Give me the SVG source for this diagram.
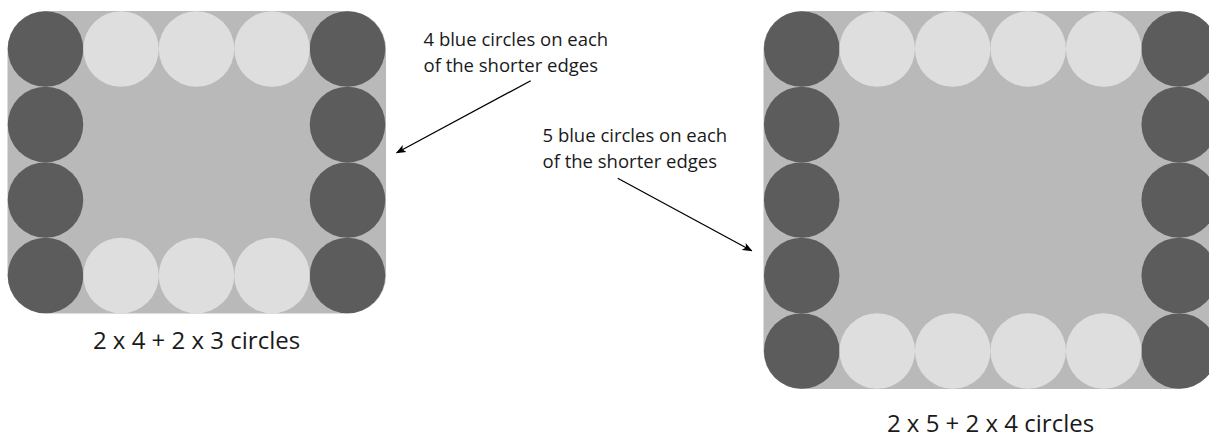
<svg xmlns="http://www.w3.org/2000/svg" width="1209" height="439" viewBox="0 0 1209 439">
<style>
.bg{fill:#b9b9b9}
.d{fill:#5c5c5c}
.l{fill:#dedede}
.t{font-family:"Open Sans","Noto Sans",sans-serif;fill:#1a1a1a}
.note{font-size:18.5px}
.cap{font-size:24px}
.con{stroke:#000;stroke-width:1.3;fill:none;marker-end:url(#ah)}
</style>
<defs>
<marker id="ah" viewBox="0 0 10 10" refX="9" refY="5" markerWidth="10" markerHeight="10" markerUnits="userSpaceOnUse" orient="auto">
<path d="M0,1 L10,5 L0,9 L2.5,5 Z" fill="#000"/>
</marker>
</defs>
<g id="shape1">
<rect class="bg" x="7.5" y="11" width="378.5" height="302.5" rx="38"/>
<circle class="d" cx="45.5" cy="49" r="37.75"/>
<circle class="d" cx="45.5" cy="124.5" r="37.75"/>
<circle class="d" cx="45.5" cy="200" r="37.75"/>
<circle class="d" cx="45.5" cy="275.5" r="37.75"/>
<circle class="d" cx="347.5" cy="49" r="37.75"/>
<circle class="d" cx="347.5" cy="124.5" r="37.75"/>
<circle class="d" cx="347.5" cy="200" r="37.75"/>
<circle class="d" cx="347.5" cy="275.5" r="37.75"/>
<circle class="l" cx="121" cy="49" r="37.75"/>
<circle class="l" cx="196.5" cy="49" r="37.75"/>
<circle class="l" cx="272" cy="49" r="37.75"/>
<circle class="l" cx="121" cy="275.5" r="37.75"/>
<circle class="l" cx="196.5" cy="275.5" r="37.75"/>
<circle class="l" cx="272" cy="275.5" r="37.75"/>
<text class="t cap" x="196.5" y="349" text-anchor="middle">2 x 4 + 2 x 3 circles</text>
</g>
<g id="shape2">
<rect class="bg" x="763.5" y="11" width="453" height="378" rx="38"/>
<circle class="d" cx="801.7" cy="49" r="37.75"/>
<circle class="d" cx="801.7" cy="124.5" r="37.75"/>
<circle class="d" cx="801.7" cy="200" r="37.75"/>
<circle class="d" cx="801.7" cy="275.5" r="37.75"/>
<circle class="d" cx="801.7" cy="351" r="37.75"/>
<circle class="d" cx="1179.2" cy="49" r="37.75"/>
<circle class="d" cx="1179.2" cy="124.5" r="37.75"/>
<circle class="d" cx="1179.2" cy="200" r="37.75"/>
<circle class="d" cx="1179.2" cy="275.5" r="37.75"/>
<circle class="d" cx="1179.2" cy="351" r="37.75"/>
<circle class="l" cx="877.2" cy="49" r="37.75"/>
<circle class="l" cx="952.7" cy="49" r="37.75"/>
<circle class="l" cx="1028.2" cy="49" r="37.75"/>
<circle class="l" cx="1103.7" cy="49" r="37.75"/>
<circle class="l" cx="877.2" cy="351" r="37.75"/>
<circle class="l" cx="952.7" cy="351" r="37.75"/>
<circle class="l" cx="1028.2" cy="351" r="37.75"/>
<circle class="l" cx="1103.7" cy="351" r="37.75"/>
<text class="t cap" x="990.5" y="432" text-anchor="middle">2 x 5 + 2 x 4 circles</text>
</g>
<g id="note1">
<text class="t note" x="423.5" y="46">4 blue circles on each</text>
<text class="t note" x="423.5" y="71.5">of the shorter edges</text>
</g>
<g id="note2">
<text class="t note" x="542.5" y="141.5">5 blue circles on each</text>
<text class="t note" x="542.5" y="167.5">of the shorter edges</text>
</g>
<g id="connectors">
<line class="con" x1="530.7" y1="80.7" x2="396.7" y2="152.7"/>
<line class="con" x1="617.7" y1="178.3" x2="751.7" y2="250.7"/>
</g>
</svg>
